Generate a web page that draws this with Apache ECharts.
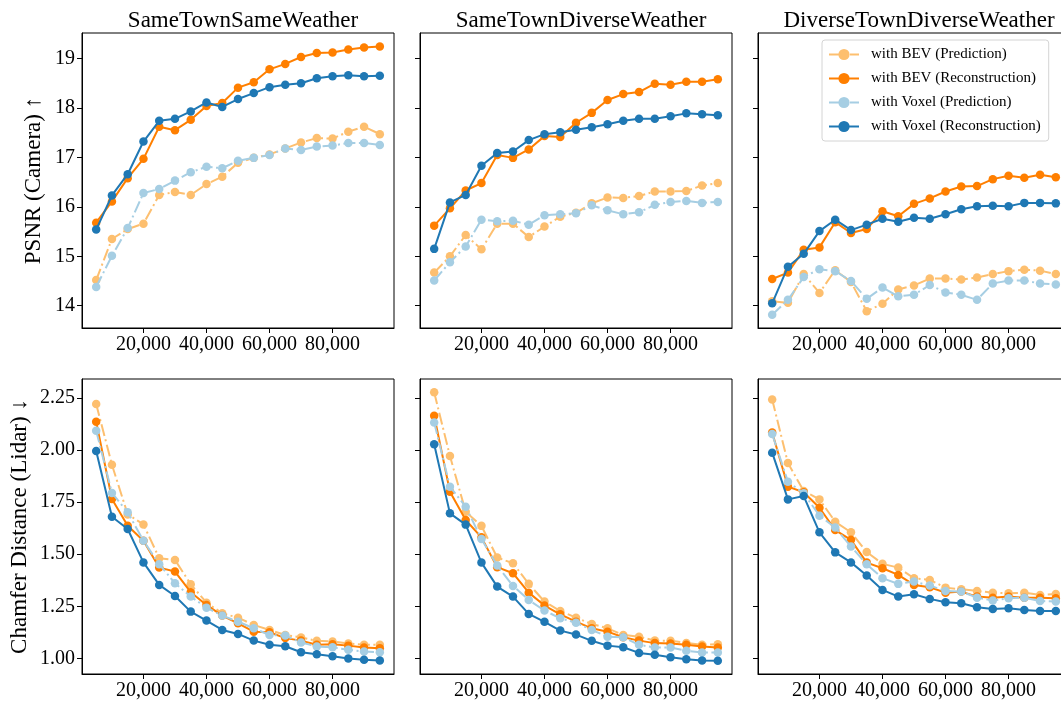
<!DOCTYPE html>
<html>
<head>
<meta charset="utf-8">
<script src="https://cdn.jsdelivr.net/npm/echarts@6/dist/echarts.min.js"></script>
<style>
html,body{margin:0;padding:0;background:#fff;}
#chart{width:1061px;height:702px;}
</style>
</head>
<body>
<div id="chart"></div>
<script>
// ---------- data ----------
const steps = [5000, 10000, 15000, 20000, 25000, 30000, 35000, 40000, 45000, 50000,
               55000, 60000, 65000, 70000, 75000, 80000, 85000, 90000, 95000];

const panelTitles = ['SameTownSameWeather', 'SameTownDiverseWeather', 'DiverseTownDiverseWeather'];
const seriesNames = ['with BEV (Prediction)', 'with BEV (Reconstruction)', 'with Voxel (Prediction)', 'with Voxel (Reconstruction)'];
const xTicks = [20000, 40000, 60000, 80000];
const psnrTicks = [14, 15, 16, 17, 18, 19];
const cdTicks = [1.00, 1.25, 1.50, 1.75, 2.00, 2.25];
const rowLabels = ['PSNR (Camera) \u2191', 'Chamfer Distance (Lidar) \u2193'];

// PSNR (Camera) — SameTownSameWeather
const psnrSTSW_bevPred  = [14.52, 15.35, 15.55, 15.66, 16.24, 16.30, 16.24, 16.46, 16.61, 16.89, 16.99, 17.06, 17.18, 17.30, 17.39, 17.38, 17.52, 17.62, 17.47];
const psnrSTSW_bevRec   = [15.68, 16.11, 16.58, 16.97, 17.62, 17.55, 17.76, 18.04, 18.10, 18.41, 18.52, 18.78, 18.89, 19.03, 19.11, 19.12, 19.18, 19.22, 19.24];
const psnrSTSW_voxPred  = [14.38, 15.01, 15.57, 16.28, 16.36, 16.53, 16.70, 16.81, 16.78, 16.93, 16.99, 17.05, 17.18, 17.15, 17.22, 17.24, 17.29, 17.29, 17.25];
const psnrSTSW_voxRec   = [15.54, 16.23, 16.66, 17.32, 17.74, 17.78, 17.93, 18.11, 18.02, 18.18, 18.30, 18.42, 18.47, 18.50, 18.60, 18.64, 18.66, 18.64, 18.65];
// PSNR (Camera) — SameTownDiverseWeather
const psnrSTDW_bevPred  = [14.67, 15.00, 15.43, 15.14, 15.66, 15.66, 15.39, 15.60, 15.80, 15.88, 16.07, 16.19, 16.18, 16.22, 16.31, 16.31, 16.32, 16.43, 16.48];
const psnrSTDW_bevRec   = [15.62, 15.97, 16.33, 16.48, 17.05, 16.99, 17.16, 17.43, 17.41, 17.70, 17.90, 18.16, 18.28, 18.32, 18.49, 18.47, 18.53, 18.53, 18.58];
const psnrSTDW_voxPred  = [14.51, 14.88, 15.20, 15.74, 15.71, 15.72, 15.64, 15.83, 15.85, 15.87, 16.03, 15.93, 15.85, 15.89, 16.04, 16.10, 16.12, 16.08, 16.10];
const psnrSTDW_voxRec   = [15.15, 16.09, 16.24, 16.83, 17.09, 17.12, 17.35, 17.47, 17.51, 17.56, 17.61, 17.67, 17.74, 17.78, 17.78, 17.83, 17.89, 17.87, 17.85];
// PSNR (Camera) — DiverseTownDiverseWeather
const psnrDTDW_bevPred  = [14.09, 14.06, 14.64, 14.26, 14.72, 14.48, 13.89, 14.04, 14.33, 14.41, 14.55, 14.55, 14.53, 14.57, 14.64, 14.70, 14.73, 14.71, 14.64];
const psnrDTDW_bevRec   = [14.54, 14.67, 15.13, 15.18, 15.69, 15.47, 15.55, 15.91, 15.81, 16.06, 16.17, 16.31, 16.41, 16.42, 16.56, 16.63, 16.59, 16.65, 16.60];
const psnrDTDW_voxPred  = [13.82, 14.12, 14.58, 14.74, 14.70, 14.50, 14.14, 14.37, 14.19, 14.22, 14.42, 14.27, 14.22, 14.12, 14.45, 14.51, 14.51, 14.45, 14.43];
const psnrDTDW_voxRec   = [14.05, 14.79, 15.05, 15.51, 15.74, 15.53, 15.64, 15.76, 15.70, 15.78, 15.76, 15.85, 15.95, 16.01, 16.02, 16.01, 16.08, 16.08, 16.07];

// Chamfer Distance (Lidar) — SameTownSameWeather
const cdSTSW_bevPred = [2.220, 1.929, 1.691, 1.643, 1.481, 1.473, 1.356, 1.268, 1.217, 1.196, 1.161, 1.137, 1.113, 1.101, 1.085, 1.082, 1.072, 1.066, 1.066];
const cdSTSW_bevRec  = [2.135, 1.765, 1.637, 1.565, 1.436, 1.417, 1.318, 1.257, 1.206, 1.169, 1.129, 1.126, 1.098, 1.086, 1.066, 1.069, 1.062, 1.053, 1.050];
const cdSTSW_voxPred = [2.092, 1.794, 1.701, 1.565, 1.452, 1.361, 1.297, 1.244, 1.206, 1.177, 1.145, 1.113, 1.110, 1.077, 1.058, 1.054, 1.042, 1.034, 1.030];
const cdSTSW_voxRec  = [1.995, 1.680, 1.621, 1.461, 1.353, 1.300, 1.225, 1.182, 1.137, 1.118, 1.086, 1.066, 1.059, 1.030, 1.021, 1.011, 1.000, 0.994, 0.991];
// Chamfer Distance (Lidar) — SameTownDiverseWeather
const cdSTDW_bevPred = [2.276, 1.971, 1.704, 1.636, 1.484, 1.457, 1.358, 1.273, 1.228, 1.196, 1.166, 1.145, 1.113, 1.105, 1.086, 1.085, 1.075, 1.066, 1.069];
const cdSTDW_bevRec  = [2.164, 1.800, 1.664, 1.581, 1.438, 1.409, 1.316, 1.254, 1.212, 1.177, 1.145, 1.129, 1.102, 1.086, 1.074, 1.072, 1.066, 1.058, 1.053];
const cdSTDW_voxPred = [2.132, 1.824, 1.728, 1.573, 1.446, 1.348, 1.281, 1.230, 1.193, 1.172, 1.137, 1.105, 1.102, 1.066, 1.053, 1.053, 1.037, 1.029, 1.029];
const cdSTDW_voxRec  = [2.027, 1.696, 1.642, 1.460, 1.345, 1.297, 1.214, 1.176, 1.134, 1.115, 1.085, 1.062, 1.054, 1.027, 1.018, 1.006, 0.997, 0.991, 0.989];
// Chamfer Distance (Lidar) — DiverseTownDiverseWeather
const cdDTDW_bevPred = [2.242, 1.937, 1.803, 1.763, 1.656, 1.605, 1.511, 1.454, 1.436, 1.385, 1.377, 1.340, 1.332, 1.324, 1.316, 1.313, 1.316, 1.305, 1.310];
const cdDTDW_bevRec  = [2.084, 1.824, 1.797, 1.723, 1.616, 1.569, 1.460, 1.433, 1.401, 1.353, 1.342, 1.316, 1.321, 1.297, 1.292, 1.297, 1.292, 1.292, 1.289];
const cdDTDW_voxPred = [2.076, 1.848, 1.792, 1.685, 1.628, 1.537, 1.452, 1.385, 1.358, 1.369, 1.350, 1.324, 1.321, 1.292, 1.278, 1.289, 1.292, 1.276, 1.273];
const cdDTDW_voxRec  = [1.987, 1.763, 1.779, 1.605, 1.509, 1.461, 1.398, 1.329, 1.297, 1.308, 1.286, 1.270, 1.265, 1.246, 1.238, 1.241, 1.233, 1.228, 1.228];

// ---------- layout / style ----------
const panels = [
  [psnrSTSW_bevPred, psnrSTSW_bevRec, psnrSTSW_voxPred, psnrSTSW_voxRec],
  [psnrSTDW_bevPred, psnrSTDW_bevRec, psnrSTDW_voxPred, psnrSTDW_voxRec],
  [psnrDTDW_bevPred, psnrDTDW_bevRec, psnrDTDW_voxPred, psnrDTDW_voxRec],
  [cdSTSW_bevPred, cdSTSW_bevRec, cdSTSW_voxPred, cdSTSW_voxRec],
  [cdSTDW_bevPred, cdSTDW_bevRec, cdSTDW_voxPred, cdSTDW_voxRec],
  [cdDTDW_bevPred, cdDTDW_bevRec, cdDTDW_voxPred, cdDTDW_voxRec]
];
const colors = ['#fdbf6f', '#ff7f00', '#a6cee3', '#1f78b4'];
const dashPred = [12, 3.5, 2, 3.5];
const FONT = "'Liberation Serif', 'DejaVu Serif', serif";
const lefts = [82, 420, 758];
const tops = [33, 379];
const W = 312, H = 295;
const yRange = [[13.55, 19.515], [0.926, 2.34]];

const grids = [], xAxes = [], yAxes = [], series = [];
for (let r = 0; r < 2; r++) {
  for (let c = 0; c < 3; c++) {
    const i = r * 3 + c;
    grids.push({left: lefts[c], top: tops[r], width: W, height: H, show: true,
      borderColor: '#000', borderWidth: 1, backgroundColor: 'transparent',
      containLabel: false, outerBoundsMode: 'none'});
    xAxes.push({type: 'value', gridIndex: i, min: 500, max: 99500,
      axisLine: {show: true, lineStyle: {color: '#000', width: 1}},
      splitLine: {show: false},
      axisTick: {show: true, length: 5, inside: false, customValues: xTicks, lineStyle: {color: '#000', width: 1}},
      axisLabel: {show: true, customValues: xTicks, margin: 7, color: '#000', fontFamily: FONT, fontSize: 20,
        formatter: v => Number(v).toLocaleString('en-US')}
    });
    const ticks = r === 0 ? psnrTicks : cdTicks;
    yAxes.push({type: 'value', gridIndex: i, min: yRange[r][0], max: yRange[r][1],
      name: c === 0 ? rowLabels[r] : '', nameLocation: 'middle', nameRotate: 90,
      nameGap: r === 0 ? 37 : 51,
      nameTextStyle: {color: '#000', fontFamily: FONT, fontSize: 23},
      axisLine: {show: true, lineStyle: {color: '#000', width: 1}},
      splitLine: {show: false},
      axisTick: {show: true, length: 5, inside: false, customValues: ticks, lineStyle: {color: '#000', width: 1}},
      axisLabel: {show: c === 0, customValues: ticks, margin: 7, color: '#000', fontFamily: FONT, fontSize: 20,
        formatter: v => r === 0 ? String(Math.round(v)) : Number(v).toFixed(2)}
    });
    panels[i].forEach((vals, k) => {
      series.push({
        name: seriesNames[k], type: 'line', xAxisIndex: i, yAxisIndex: i,
        data: steps.map((s, j) => [s, vals[j]]),
        symbol: 'circle', symbolSize: 8.5, showSymbol: true,
        color: colors[k],
        itemStyle: {color: colors[k]},
        lineStyle: {color: colors[k], width: 2, type: (k % 2 === 0) ? dashPred : 'solid'},
        clip: true, z: 2 + k, silent: true
      });
    });
  }
}

const titles = panelTitles.map((t, c) => ({
  text: t, left: lefts[c] + W / 2, top: 4, textAlign: 'center',
  textStyle: {color: '#000', fontFamily: FONT, fontSize: 23, fontWeight: 'normal'}
}));

const chart = echarts.init(document.getElementById('chart'), null, {renderer: 'canvas'});
chart.setOption({
  animation: false,
  backgroundColor: '#fff',
  title: titles,
  legend: {
    data: seriesNames, orient: 'vertical', left: 822, top: 40,
    itemWidth: 30, itemHeight: 14, itemGap: 9,
    padding: [7, 8, 7, 6],
    backgroundColor: 'rgba(255,255,255,0.8)', borderColor: '#d4d4d4', borderWidth: 1, borderRadius: 3,
    textStyle: {color: '#000', fontFamily: FONT, fontSize: 15, padding: [0, 0, 0, 7]},
    selectedMode: false
  },
  grid: grids, xAxis: xAxes, yAxis: yAxes, series: series
});
</script>
</body>
</html>
